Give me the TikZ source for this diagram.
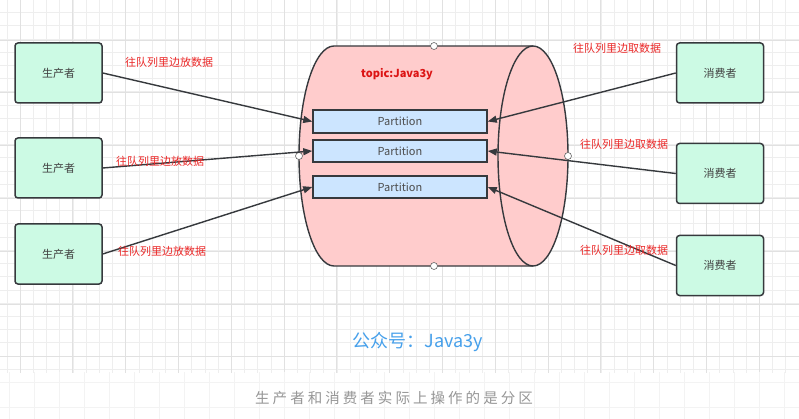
\documentclass[tikz,border=0pt]{standalone}
\usepackage{fontspec}
\setmainfont{Noto Sans CJK SC}
\usetikzlibrary{arrows.meta,positioning}
\definecolor{mintgreen}{RGB}{204,250,228}
\definecolor{topicpink}{RGB}{255,204,204}
\definecolor{partblue}{RGB}{204,229,255}
\definecolor{edgegray}{RGB}{54,57,61}
\definecolor{labelred}{RGB}{235,40,40}
\definecolor{notered}{RGB}{220,20,20}
\definecolor{signblue}{RGB}{70,160,235}
\definecolor{captiongray}{RGB}{150,150,150}
\definecolor{gridminor}{RGB}{238,238,238}
\definecolor{gridmajor}{RGB}{225,225,225}
\definecolor{gridlow}{RGB}{243,243,243}
\tikzset{
  role/.style={
    rounded corners=3pt,
    draw=edgegray,
    line width=1.5pt,
    fill=mintgreen,
    minimum width=87pt,
    minimum height=60pt,
    inner sep=0pt,
    text=black!75,
    font=\fontsize{11}{12}\selectfont
  },
  partbox/.style={
    draw=edgegray,
    line width=1.5pt,
    fill=partblue,
    minimum width=174pt,
    minimum height=22pt,
    inner sep=0pt,
    text=black!70,
    font=\fontsize{11}{12}\selectfont
  },
  hint/.style={
    text=labelred,
    inner sep=0pt,
    font=\fontsize{11}{12}\selectfont
  },
  handle/.style={
    circle,
    draw=black!60,
    fill=white,
    line width=.6pt,
    minimum size=7pt,
    inner sep=0pt
  },
  arrow/.style={
    -{Triangle[length=9pt,width=7pt]},
    line width=1.4pt,
    edgegray
  }
}
\begin{document}
\begin{tikzpicture}[x=1pt,y=1pt]
\useasboundingbox (0,0) rectangle (799,-419);
\fill[white] (0,0) rectangle (799,-419);
% background grid
\begin{scope}
\clip (0,0) rectangle (799,-372);
\draw[gridminor,line width=.6pt,shift={(6.8,-12.6)},step=13.2] (-20,20) grid (820,-400);
\draw[gridmajor,line width=.7pt,shift={(20,-40)},step=52.8] (-60,60) grid (840,-420);
\end{scope}
\begin{scope}
\clip (0,-372) rectangle (799,-419);
\draw[gridlow,line width=.6pt,shift={(9,-7)},step=25] (-30,-350) grid (820,-440);
\end{scope}
% topic cylinder
\fill[topicpink] (334,-46) -- (533,-46)
  arc[start angle=90,end angle=-90,x radius=35,y radius=110] -- (334,-266)
  arc[start angle=270,end angle=90,x radius=35,y radius=110] -- cycle;
\draw[edgegray,line width=1.4pt] (533,-46) -- (334,-46)
  arc[start angle=90,end angle=270,x radius=35,y radius=110] -- (533,-266);
\draw[edgegray,line width=1.4pt] (533,-156) ellipse[x radius=35,y radius=110];
\node[handle] (h1) at (434,-46) {};
\node[handle] (h2) at (434,-266) {};
\node[handle] (h3) at (299,-156) {};
\node[handle] (h4) at (568,-156) {};
\node[text=notered,inner sep=0pt,font=\bfseries\fontsize{11}{12}\selectfont] (topic) at (397,-74) {topic:Java3y};
% partitions
\node[partbox,minimum height=23pt] (part1) at (400,-121.5) {Partition};
\node[partbox] (part2) at (400,-151) {Partition};
\node[partbox] (part3) at (400,-187) {Partition};
% producers and consumers
\node[role] (p1) at (58.5,-73) {生产者};
\node[role] (p2) at (58.5,-168) {生产者};
\node[role] (p3) at (58.5,-254) {生产者};
\node[role] (c1) at (720,-73) {消费者};
\node[role] (c2) at (720,-173.5) {消费者};
\node[role] (c3) at (720,-265.5) {消费者};
\draw[arrow] (p1.east) -- (part1.west);
\draw[arrow] (p2.east) -- (part2.west);
\draw[arrow] (p3.east) -- (part3.west);
\draw[arrow] (c1.west) -- (part1.east);
\draw[arrow] (c2.west) -- (part2.east);
\draw[arrow] (c3.west) -- (part3.east);
% edge labels
\node[hint] (put1) at (169,-62) {往队列里边放数据};
\node[hint] (put2) at (160,-161) {往队列里边放数据};
\node[hint] (put3) at (162,-251) {往队列里边放数据};
\node[hint] (take1) at (617,-48) {往队列里边取数据};
\node[hint] (take2) at (624,-144) {往队列里边取数据};
\node[hint] (take3) at (624,-250) {往队列里边取数据};
% footer
\node[text=signblue,inner sep=0pt,font=\fontsize{18}{20}\selectfont] (sign) at (418,-342) {公众号：Java3y};
\node[text=captiongray,inner sep=0pt,font=\fontsize{14.5}{16}\selectfont\addfontfeature{LetterSpace=21}] (caption) at (394,-398) {生产者和消费者实际上操作的是分区};
\end{tikzpicture}
\end{document}
